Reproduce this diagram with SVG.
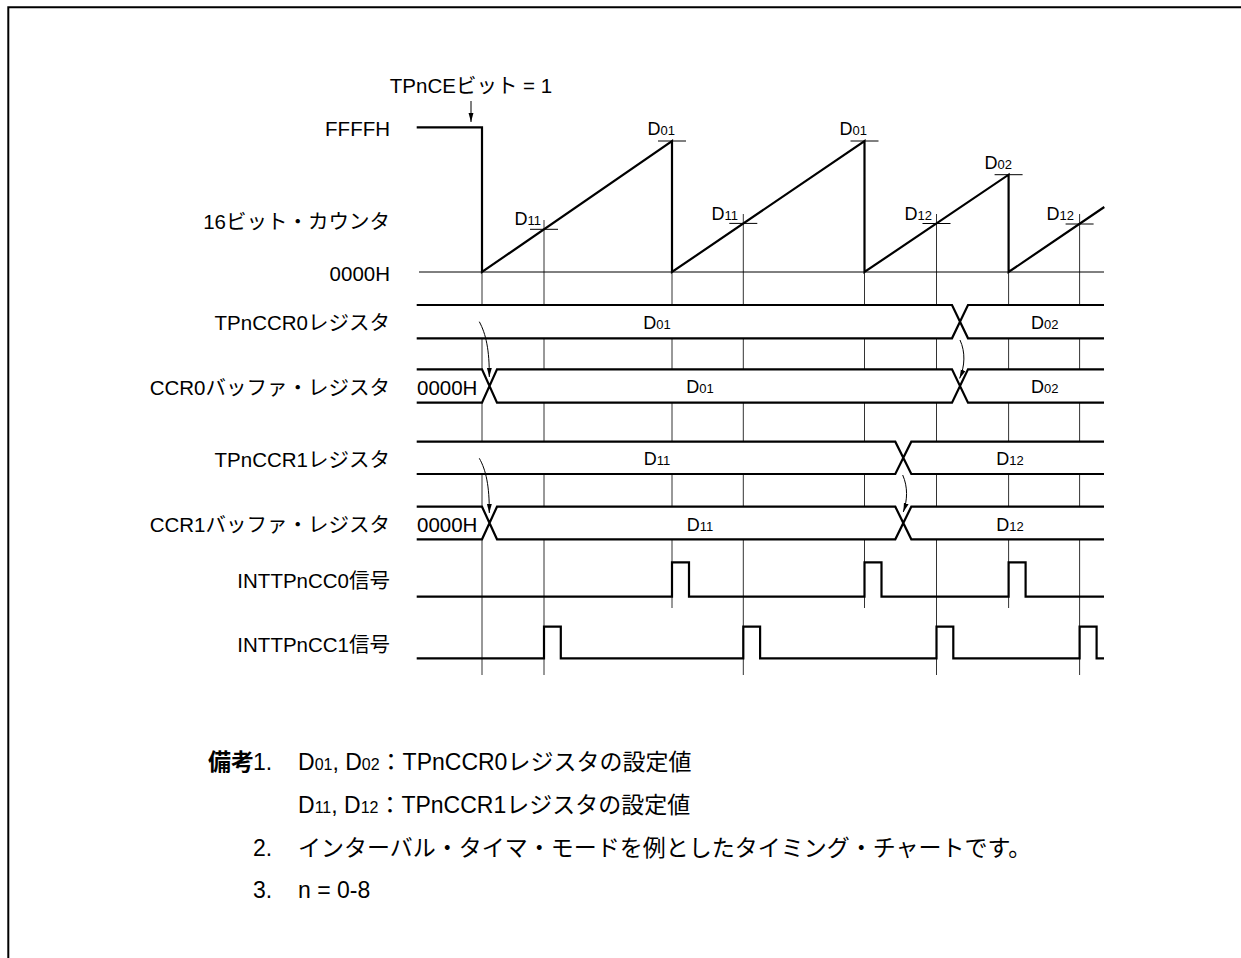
<svg xmlns="http://www.w3.org/2000/svg" width="1241" height="958" viewBox="0 0 1241 958">
<style>
text { font-family: 'Liberation Sans', 'Noto Sans CJK JP', sans-serif; fill: #000; }
.lbl { font-size: 20.5px; text-anchor: end; }
.d { font-size: 18px; }
.sub { font-size: 13px; }
.mid { text-anchor: middle; }
.end { text-anchor: end; }
.note { font-size: 23px; }
.nsub { font-size: 16px; }
.sig { fill: none; stroke: #000; stroke-width: 2.2; stroke-linejoin: miter; }
.thin { fill: none; stroke: #000; stroke-width: 1; }
.grid { stroke: #333; stroke-width: 1; }
.band { fill: #fff; stroke: none; }
.arr { fill: none; stroke: #000; stroke-width: 1; marker-end: url(#ah); }
</style>
<defs>
<marker id="ah" viewBox="0 0 10 10" refX="10" refY="5" markerWidth="9" markerHeight="9" markerUnits="userSpaceOnUse" orient="auto">
<path d="M0,2.3 L10,5 L0,7.7 z" fill="#000"/>
</marker>
</defs>
<rect width="1241" height="958" fill="#fff"/>
<g id="frame">
<path d="M8.3,958 V7.3 H1241" fill="none" stroke="#000" stroke-width="2"/>
</g>

<g id="grid">
<line class="grid" x1="482" y1="272" x2="482" y2="675"/>
<line class="grid" x1="544" y1="220" x2="544" y2="675"/>
<line class="grid" x1="672" y1="272" x2="672" y2="608"/>
<line class="grid" x1="743.3" y1="214" x2="743.3" y2="675"/>
<line class="grid" x1="864.5" y1="272" x2="864.5" y2="608"/>
<line class="grid" x1="936.5" y1="214" x2="936.5" y2="675"/>
<line class="grid" x1="1008.6" y1="272" x2="1008.6" y2="608"/>
<line class="grid" x1="1079.6" y1="214" x2="1079.6" y2="675"/>
</g>

<g id="labels">
<text x="471" y="93" class="lbl mid" style="text-anchor:middle">TPnCEビット = 1</text>
<text x="390" y="135.5" class="lbl">FFFFH</text>
<text x="390" y="229" class="lbl">16ビット・カウンタ</text>
<text x="390" y="280.5" class="lbl">0000H</text>
<text x="390" y="330" class="lbl">TPnCCR0レジスタ</text>
<text x="390" y="395" class="lbl">CCR0バッファ・レジスタ</text>
<text x="390" y="466.7" class="lbl">TPnCCR1レジスタ</text>
<text x="390" y="531.7" class="lbl">CCR1バッファ・レジスタ</text>
<text x="390" y="588" class="lbl">INTTPnCC0信号</text>
<text x="390" y="651.7" class="lbl">INTTPnCC1信号</text>
</g>

<g id="counter">
<line class="thin" x1="419" y1="272" x2="1104" y2="272"/>
<path class="sig" d="M416.7,127.3 H482 V272 L672,141 V272 L864.5,141 V272 L1008.6,174.7 V272 L1104.3,207"/>
<line class="thin" x1="658" y1="141" x2="686" y2="141"/>
<line class="thin" x1="850.5" y1="141" x2="878.5" y2="141"/>
<line class="thin" x1="994.6" y1="174.7" x2="1022.6" y2="174.7"/>
<line class="thin" x1="530" y1="229.3" x2="558" y2="229.3"/>
<line class="thin" x1="729.3" y1="223.4" x2="757.3" y2="223.4"/>
<line class="thin" x1="922.5" y1="223.5" x2="950.5" y2="223.5"/>
<line class="thin" x1="1065.6" y1="224" x2="1093.6" y2="224"/>
<text x="675" y="135" class="d end">D<tspan class="sub">01</tspan></text>
<text x="867" y="135" class="d end">D<tspan class="sub">01</tspan></text>
<text x="1012" y="168.5" class="d end">D<tspan class="sub">02</tspan></text>
<text x="541" y="224.5" class="d end">D<tspan class="sub">11</tspan></text>
<text x="738" y="219.5" class="d end">D<tspan class="sub">11</tspan></text>
<text x="932" y="219.5" class="d end">D<tspan class="sub">12</tspan></text>
<text x="1074" y="219.5" class="d end">D<tspan class="sub">12</tspan></text>
</g>

<g id="tpnccr0">
<rect class="band" x="416.7" y="305" width="687.3" height="33.3"/>
<path class="sig" d="M416.7,305 H952 L968,338.3 H1104 M416.7,338.3 H952 L968,305 H1104"/>
<text x="657" y="328.7" class="d mid">D<tspan class="sub">01</tspan></text>
<text x="1044.7" y="328.7" class="d mid">D<tspan class="sub">02</tspan></text>
</g>

<g id="ccr0buf">
<rect class="band" x="416.7" y="369.3" width="687.3" height="33.4"/>
<path class="sig" d="M416.7,369.3 H482 L497,402.7 H952 L968,369.3 H1104 M416.7,402.7 H482 L497,369.3 H952 L968,402.7 H1104"/>
<text x="417" y="395" style="font-size:20.5px">0000H</text>
<text x="700" y="393" class="d mid">D<tspan class="sub">01</tspan></text>
<text x="1044.7" y="393" class="d mid">D<tspan class="sub">02</tspan></text>
</g>

<g id="tpnccr1">
<rect class="band" x="416.7" y="441.7" width="687.3" height="32.3"/>
<path class="sig" d="M416.7,441.7 H895.3 L911.3,474 H1104 M416.7,474 H895.3 L911.3,441.7 H1104"/>
<text x="657" y="464.5" class="d mid">D<tspan class="sub">11</tspan></text>
<text x="1010" y="464.5" class="d mid">D<tspan class="sub">12</tspan></text>
</g>

<g id="ccr1buf">
<rect class="band" x="416.7" y="506.7" width="687.3" height="32.6"/>
<path class="sig" d="M416.7,506.7 H482 L497,539.3 H895.3 L911.3,506.7 H1104 M416.7,539.3 H482 L497,506.7 H895.3 L911.3,539.3 H1104"/>
<text x="417" y="531.7" style="font-size:20.5px">0000H</text>
<text x="700" y="530.5" class="d mid">D<tspan class="sub">11</tspan></text>
<text x="1010" y="530.5" class="d mid">D<tspan class="sub">12</tspan></text>
</g>

<g id="inttpncc0">
<path class="sig" d="M416.7,596.7 H672 V562.3 H689 V596.7 H864.5 V562.3 H881.5 V596.7 H1008.6 V562.3 H1025.6 V596.7 H1104"/>
</g>

<g id="inttpncc1">
<path class="sig" d="M416.7,658.3 H544 V626.7 H560.8 V658.3 H743.3 V626.7 H760.1 V658.3 H936.5 V626.7 H953.3 V658.3 H1079.6 V626.7 H1096.6 V658.3 H1104"/>
</g>

<g id="connectors">
<line class="arr" x1="471" y1="101" x2="471" y2="122"/>
<path class="arr" d="M479.3,321.7 C486,334 489.5,350 489.3,377"/>
<path class="arr" d="M479.3,458.3 C486,470 489.5,486 489.3,513"/>
<path class="arr" d="M960,340 C965.5,352 965,366 959.6,378.5"/>
<path class="arr" d="M902.7,475 C908,487 907.5,500 903.3,512"/>
</g>

<g id="notes">
<text x="208" y="770" class="note" font-weight="bold">備考</text>
<text x="253" y="770" class="note">1.</text>
<text x="298" y="770" class="note">D<tspan class="nsub">01</tspan>, D<tspan class="nsub">02</tspan>：TPnCCR0レジスタの設定値</text>
<text x="298" y="813" class="note">D<tspan class="nsub">11</tspan>, D<tspan class="nsub">12</tspan>：TPnCCR1レジスタの設定値</text>
<text x="253" y="856" class="note">2.</text>
<text x="298" y="856" class="note">インターバル・タイマ・モードを例としたタイミング・チャートです。</text>
<text x="253" y="898" class="note">3.</text>
<text x="298" y="898" class="note">n = 0-8</text>
</g>
</svg>
